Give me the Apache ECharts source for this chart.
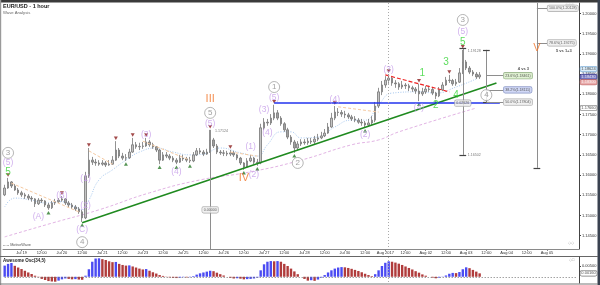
<!DOCTYPE html>
<html><head><meta charset="utf-8">
<script src="https://cdn.jsdelivr.net/npm/echarts@6/dist/echarts.min.js"></script>
<style>html,body{margin:0;padding:0;background:#fff}#c{width:600px;height:285px}</style>
</head><body><div id="c"></div>
<script>
// ---------- DATA ----------
const xLabels = ['Jul 19','12:00','Jul 20','12:00','Jul 21','12:00','Jul 23','12:00','Jul 25','12:00','Jul 26','12:00','Jul 27','12:00','Jul 28','12:00','Jul 30','12:00','Aug 2017','12:00','Aug 02','12:00','Aug 03','12:00','Aug 04','12:00','Aug 05'];
const slotCount = 171;          // 2-hour slots on the time axis
const firstLabelSlot = 5;
const labelStep = 6;

// [open, close, low, high] per 2-hour slot
const ohlc = [
[1.1551,1.1568,1.1548,1.1576],[1.1568,1.1583,1.1566,1.1593],[1.1583,1.1573,1.1568,1.1585],[1.1573,1.1563,1.1561,1.1578],
[1.1563,1.1556,1.1551,1.1568],[1.1556,1.1551,1.1546,1.1561],[1.1551,1.1548,1.1541,1.1556],[1.1548,1.1543,1.1538,1.1553],
[1.1543,1.1541,1.1534,1.1548],[1.1541,1.1529,1.1521,1.1543],[1.1529,1.1538,1.1526,1.1543],[1.1538,1.1536,1.1531,1.1543],
[1.1536,1.1526,1.1521,1.1538],[1.1526,1.1519,1.1514,1.1531],[1.1519,1.1531,1.1516,1.1536],[1.1531,1.1534,1.1526,1.1541],
[1.1534,1.1538,1.1531,1.1543],[1.1538,1.1541,1.1534,1.1548],[1.1541,1.1531,1.1526,1.1543],[1.1531,1.1526,1.1521,1.1536],
[1.1526,1.1521,1.1516,1.1531],[1.1521,1.1516,1.1511,1.1526],[1.1516,1.1509,1.1504,1.1521],[1.1509,1.1494,1.1484,1.1514],
[1.1494,1.1598,1.1491,1.1608],[1.1598,1.1637,1.1593,1.1667],[1.1637,1.1632,1.1625,1.1645],[1.1632,1.1630,1.1623,1.1640],
[1.1630,1.1627,1.1623,1.1637],[1.1627,1.1630,1.1623,1.1637],[1.1630,1.1625,1.1620,1.1635],[1.1625,1.1627,1.1623,1.1637],
[1.1627,1.1637,1.1625,1.1647],[1.1637,1.1662,1.1635,1.1684],[1.1662,1.1647,1.1642,1.1667],[1.1647,1.1642,1.1637,1.1655],
[1.1642,1.1643,1.1635,1.1652],[1.1643,1.1657,1.1640,1.1665],[1.1657,1.1675,1.1655,1.1692],[1.1675,1.1670,1.1665,1.1682],
[1.1670,1.1671,1.1662,1.1680],[1.1671,1.1672,1.1665,1.1682],[1.1672,1.1682,1.1670,1.1692],[1.1682,1.1675,1.1670,1.1687],
[1.1675,1.1670,1.1665,1.1680],[1.1670,1.1662,1.1657,1.1672],[1.1662,1.1637,1.1627,1.1665],[1.1637,1.1650,1.1635,1.1657],
[1.1650,1.1647,1.1642,1.1657],[1.1647,1.1642,1.1637,1.1652],[1.1642,1.1637,1.1632,1.1647],[1.1637,1.1632,1.1627,1.1642],
[1.1632,1.1642,1.1630,1.1650],[1.1642,1.1640,1.1635,1.1650],[1.1640,1.1637,1.1632,1.1645],[1.1637,1.1635,1.1630,1.1645],
[1.1635,1.1650,1.1632,1.1657],[1.1650,1.1660,1.1647,1.1667],[1.1660,1.1657,1.1652,1.1667],[1.1657,1.1652,1.1647,1.1662],
[1.1652,1.1657,1.1650,1.1665],[1.1657,1.1687,1.1655,1.1712],[1.1687,1.1672,1.1667,1.1692],[1.1672,1.1657,1.1652,1.1677],
[1.1657,1.1655,1.1650,1.1662],[1.1655,1.1654,1.1647,1.1662],[1.1654,1.1652,1.1647,1.1660],[1.1652,1.1655,1.1647,1.1662],
[1.1655,1.1650,1.1645,1.1660],[1.1650,1.1642,1.1637,1.1652],[1.1642,1.1630,1.1625,1.1645],[1.1630,1.1620,1.1613,1.1632],
[1.1620,1.1635,1.1618,1.1642],[1.1635,1.1642,1.1632,1.1650],[1.1642,1.1632,1.1627,1.1645],[1.1632,1.1630,1.1623,1.1640],
[1.1630,1.1717,1.1627,1.1727],[1.1717,1.1731,1.1712,1.1741],[1.1731,1.1729,1.1722,1.1739],[1.1729,1.1741,1.1724,1.1751],
[1.1741,1.1754,1.1736,1.1774],[1.1754,1.1741,1.1736,1.1761],[1.1741,1.1727,1.1722,1.1746],[1.1727,1.1712,1.1707,1.1731],
[1.1712,1.1694,1.1689,1.1717],[1.1694,1.1682,1.1675,1.1699],[1.1682,1.1667,1.1655,1.1687],[1.1667,1.1677,1.1662,1.1684],
[1.1677,1.1682,1.1672,1.1689],[1.1682,1.1680,1.1675,1.1689],[1.1680,1.1684,1.1675,1.1692],[1.1684,1.1682,1.1677,1.1692],
[1.1682,1.1689,1.1677,1.1697],[1.1689,1.1692,1.1684,1.1702],[1.1692,1.1697,1.1689,1.1707],[1.1697,1.1704,1.1694,1.1714],
[1.1704,1.1719,1.1702,1.1729],[1.1719,1.1741,1.1717,1.1754],[1.1741,1.1756,1.1736,1.1771],[1.1756,1.1755,1.1746,1.1766],
[1.1755,1.1751,1.1744,1.1761],[1.1751,1.1749,1.1741,1.1759],[1.1749,1.1744,1.1739,1.1754],[1.1744,1.1739,1.1734,1.1749],
[1.1739,1.1736,1.1731,1.1746],[1.1736,1.1731,1.1727,1.1741],[1.1731,1.1729,1.1722,1.1739],[1.1729,1.1724,1.1717,1.1734],
[1.1724,1.1729,1.1719,1.1739],[1.1729,1.1736,1.1724,1.1746],[1.1736,1.1771,1.1731,1.1781],[1.1771,1.1806,1.1766,1.1816],
[1.1806,1.1823,1.1798,1.1833],[1.1823,1.1835,1.1816,1.1845],[1.1835,1.1840,1.1826,1.1850],[1.1840,1.1828,1.1821,1.1843],
[1.1828,1.1826,1.1816,1.1835],[1.1826,1.1818,1.1811,1.1830],[1.1818,1.1823,1.1813,1.1833],[1.1823,1.1821,1.1813,1.1828],
[1.1821,1.1816,1.1808,1.1826],[1.1816,1.1813,1.1806,1.1821],[1.1813,1.1808,1.1801,1.1818],[1.1808,1.1801,1.1783,1.1826],
[1.1801,1.1806,1.1796,1.1816],[1.1806,1.1813,1.1801,1.1821],[1.1813,1.1812,1.1806,1.1821],[1.1812,1.1803,1.1798,1.1816],
[1.1803,1.1796,1.1788,1.1806],[1.1796,1.1811,1.1793,1.1818],[1.1811,1.1823,1.1808,1.1830],[1.1823,1.1835,1.1821,1.1843],
[1.1835,1.1834,1.1828,1.1848],[1.1834,1.1826,1.1821,1.1838],[1.1826,1.1830,1.1821,1.1838],[1.1830,1.1853,1.1828,1.1865],
[1.1853,1.1880,1.1850,1.1910],[1.1880,1.1865,1.1860,1.1885],[1.1865,1.1855,1.1850,1.1870],[1.1855,1.1850,1.1845,1.1860],
[1.1850,1.1843,1.1838,1.1855],[1.1843,1.1848,1.1838,1.1855]
];

// Awesome Oscillator (34,5), per 2-hour slot
const aoValues = [
0.0052,0.0060,0.0064,0.0051,0.0043,0.0036,0.0028,0.0020,0.0013,0.0005,-0.0002,-0.0010,-0.0015,-0.0020,-0.0022,-0.0023,
-0.0018,-0.0012,-0.0008,-0.0010,-0.0012,-0.0011,-0.0013,-0.0014,0.0005,0.0035,0.0070,0.0085,0.0086,0.0082,0.0078,0.0072,
0.0068,0.0069,0.0060,0.0055,0.0052,0.0053,0.0048,0.0043,0.0038,0.0034,0.0036,0.0028,0.0021,0.0015,0.0008,0.0004,
0.0001,-0.0003,-0.0005,-0.0006,-0.0004,-0.0002,-0.0003,-0.0002,0.0003,0.0010,0.0016,0.0020,0.0024,0.0028,0.0026,0.0019,
0.0012,0.0006,0.0000,-0.0005,-0.0008,-0.0007,-0.0009,-0.0012,-0.0011,-0.0010,-0.0008,-0.0004,0.0030,0.0058,0.0070,0.0073,
0.0072,0.0073,0.0070,0.0060,0.0050,0.0038,0.0025,0.0012,0.0000,-0.0010,-0.0018,-0.0016,-0.0019,-0.0013,-0.0004,0.0008,
0.0020,0.0030,0.0038,0.0043,0.0045,0.0044,0.0041,0.0037,0.0032,0.0027,0.0021,0.0014,0.0008,0.0003,0.0012,0.0030,
0.0050,0.0065,0.0072,0.0070,0.0066,0.0061,0.0055,0.0048,0.0041,0.0034,0.0026,0.0019,0.0011,0.0005,0.0000,-0.0004,
-0.0007,-0.0004,-0.0001,0.0006,0.0014,0.0018,0.0017,0.0022,0.0035,0.0044,0.0040,0.0032,0.0024,0.0016
];

// moving averages, sampled [slot, price]
const fastMA = [[0,1.1521],[3,1.1543],[8,1.1538],[12,1.1531],[17,1.1534],[21,1.1521],[23,1.1514],[25,1.1538],[28,1.1588],
 [32,1.1613],[36,1.1637],[40,1.1657],[45,1.1667],[50,1.1657],[55,1.1650],[59,1.1652],[64,1.1667],[70,1.1655],[75,1.1647],
 [78,1.1675],[82,1.1707],[85,1.1707],[88,1.1692],[93,1.1694],[98,1.1719],[103,1.1736],[107,1.1736],[111,1.1774],[115,1.1803],
 [123,1.1806],[128,1.1803],[134,1.1818],[140,1.1838]];
const slowMA = [[0,1.1447],[14,1.1481],[28,1.1514],[43,1.1556],[58,1.1588],[73,1.1608],[88,1.1637],[103,1.1675],[111,1.1687],[117,1.1707],[140,1.1766]];

const priceTicks = [1.145,1.150,1.155,1.160,1.165,1.170,1.175,1.180,1.185,1.190,1.195,1.200];
const aoTicks = [0.005];

// swing markers (slots)
const highMarks = [1,17,25,33,38,42,61,67,80,98,114,123,132,136];
const lowMarks = [13,23,36,46,51,55,71,75,86,107,123,128];

// wave labels: [text, kind, slot, price]
const waveLabels = [
 ['3','circle',1,1.1655],['(5)','sub',1,1.1630],['5','minor',1,1.1608],
 ['(A)','sub',10,1.1496],['(B)','sub',17,1.1548],['(C)','sub',23,1.1464],['4','circle',23,1.1434],
 ['(1)','sub',24,1.1590],['(2)','sub',24,1.1524],['(3)','sub',42,1.1699],['(4)','sub',51,1.1608],
 ['III','major',61,1.1788],['5','circle',61,1.1754],['(5)','sub',61,1.1727],
 ['(1)','sub',73,1.1670],['IV','major',71,1.1593],['(2)','sub',74,1.1600],
 ['1','circle',80,1.1818],['(5)','sub',80,1.1791],['(3)','sub',77,1.1761],['(4)','sub',78,1.1704],
 ['2','circle',87,1.1630],['(4)','sub',98,1.1786],['(2)','sub',107,1.1699],
 ['(3)','sub',114,1.1860],['(4)','sub',123,1.1766],['1','minor',124,1.1853],['2','minor',128,1.1774],
 ['3','minor',131,1.1880],['4','minor',134,1.1798],['5','minor',136,1.1929],
 ['3','circle',136,1.1984],['(5)','sub',136,1.1954],['4','circle',143,1.1798],['V','major',158,1.1915]
];

// trend lines [[slot,price],[slot,price]]
const greenTrend = [[23,1.1482],[146,1.1828]];
const blueLevel = [[80,1.1778],[147,1.1778]];
const redTrend = [[113,1.1848],[132,1.1806]];
const peachLines = [
 [[2,1.1580],[22,1.1509]], [[25,1.1660],[32,1.1627]], [[41,1.1684],[55,1.1637]],
 [[67,1.1657],[75,1.1647]], [[99,1.1769],[111,1.1756]]
];
const monthSlot = 114;
// measuring tools
const measureVerticals = [[[61,1.1712],[61,1.1417]],[[136,1.1913],[136,1.1650]],[[143,1.1910],[143,1.1780]],[[158,1.2026],[158,1.1618]]];
const measureCaps = [[136,1.1913],[136,1.1650],[143,1.1910],[143,1.1780],[158,1.1618]];
const fibConnectors = [[[143,1.18461],[148,1.18461]],[[143,1.18111],[148,1.18111]],[[143,1.17804],[148,1.17804]],[[158,1.20128],[161,1.20128]],[[158,1.19275],[161,1.19275]]];
const fibBoxes = [
 ['23.6%(1.18461)',148,1.18461,'green'],['38.2%(1.18111)',148,1.18111,'blue'],['50.0%(1.17804)',148,1.17804,'grey'],
 ['100.0%(1.20128)',161,1.20128,'grey'],['78.6%(1.19275)',161,1.19275,'grey']
];
const centerBoxes = [['0.00000',61,1.1514],['0.02626',136,1.1778]];
const noteTexts = [['4 vs 3',154,1.1864,true],['5 vs 1+3',166,1.1908,true],['1.17124',62,1.1709,false],['1.19128',137,1.1906,false],['1.16502',137,1.1650,false]];
const axisBoxes = [['1.18624',1.18624,'lb'],['1.18430',1.1843,'db'],['1.18300',1.1830,'pk'],['1.17660',1.1766,'wh']];
const aoBox = ['0.00160',0.0016];

// ---------- CHART ----------
const FONT = 'Liberation Sans, Arial, sans-serif';
const chart = echarts.init(document.getElementById('c'), null, {renderer:'canvas'});
const categories = Array.from({length: slotCount}, (_, i) => 's' + i);
const labelAt = i => (i >= firstLabelSlot && (i - firstLabelSlot) % labelStep === 0) ? xLabels[(i - firstLabelSlot) / labelStep] : undefined;
const isLabel = i => labelAt(i) !== undefined;

const seg = (a, b, style) => [{coord: a, lineStyle: style}, {coord: b}];
const greyL = {color:'#8e8e8e', width:1, type:'solid'};
const mainLines = [
  seg(greenTrend[0], greenTrend[1], {color:'#1f8a1f', width:1.6, type:'solid'}),
  seg(blueLevel[0], blueLevel[1], {color:'#2233ee', width:1.6, type:'solid'}),
  seg(redTrend[0], redTrend[1], {color:'#ee2222', width:1.2, type:[4,2]}),
  seg([monthSlot,1.2026],[monthSlot,1.1417], {color:'#aaaaaa', width:1, type:[1,2]}),
  ...peachLines.map(l => seg(l[0], l[1], {color:'#f5c9a0', width:1, type:[3,2]})),
  ...measureVerticals.map(l => seg(l[0], l[1], greyL)),
  ...measureCaps.map(c => seg([c[0]-1, c[1]], [c[0]+1, c[1]], {color:'#444', width:1.2, type:'solid'})),
  ...fibConnectors.map(l => seg(l[0], l[1], greyL))
];

const waveStyles = {
  circle: {symbol:'circle', size:11, item:{color:'#ffffff', borderColor:'#a4a4a4', borderWidth:1}, color:'#8a8a8a', fontSize:8, weight:'normal'},
  sub:    {symbol:'circle', size:1, item:{color:'rgba(0,0,0,0)'}, color:'#c49be9', fontSize:8.5, weight:'normal'},
  minor:  {symbol:'circle', size:1, item:{color:'rgba(0,0,0,0)'}, color:'#35d435', fontSize:10, weight:'normal'},
  major:  {symbol:'circle', size:1, item:{color:'rgba(0,0,0,0)'}, color:'#f07428', fontSize:11, weight:'normal'}
};
const waveData = waveLabels.map(([t, k, s, p]) => {
  const st = waveStyles[k];
  return {value:[s, p], symbol: st.symbol, symbolSize: st.size, itemStyle: st.item,
    label:{show:true, position:'inside', formatter:t, color:st.color, fontSize:st.fontSize, fontWeight:st.weight, fontFamily:FONT}};
});

const boxStyles = {
  green:{bg:'#d9efc9', border:'#7b9c6b'}, blue:{bg:'#c6cef2', border:'#6f7fb5'}, grey:{bg:'#eeeeee', border:'#9a9a9a'},
  lb:{bg:'#d3e8f7', border:'#5c97cc', color:'#222'}, db:{bg:'#5b5bb3', border:'#3c3c90', color:'#fff'},
  pk:{bg:'#e49a9a', border:'#b86060', color:'#fff'}, wh:{bg:'#ffffff', border:'#555', color:'#222'}
};
const boxData = [
  ...fibBoxes.map(([t, s, p, st]) => ({value:[s, p], label:{show:true, position:'right', distance:0, formatter:t, fontSize:3.6, color:'#333',
     backgroundColor:boxStyles[st].bg, borderColor:boxStyles[st].border, borderWidth:0.6, borderRadius:1.5, padding:[1,1.5], fontFamily:FONT}})),
  ...centerBoxes.map(([t, s, p]) => ({value:[s, p], label:{show:true, position:'inside', formatter:t, fontSize:3.6, color:'#333',
     backgroundColor:'#eeeeee', borderColor:'#9a9a9a', borderWidth:0.6, borderRadius:1.5, padding:[1,1.5], fontFamily:FONT}})),
  ...noteTexts.map(([t, s, p, b]) => ({value:[s, p], label:{show:true, position: b ? 'inside' : 'right', distance:1, formatter:t,
     fontSize: b ? 4 : 3.6, fontWeight: b ? 'bold' : 'normal', color: b ? '#222' : '#555', fontFamily:FONT}})),
  ...axisBoxes.map(([t, p, st]) => ({value:[slotCount - 1, p], label:{show:true, position:'right', distance:2.5, formatter:t, fontSize:4,
     color:boxStyles[st].color, backgroundColor:boxStyles[st].bg, borderColor:boxStyles[st].border, borderWidth:0.6, borderRadius:1.5, padding:[0.5,1], fontFamily:FONT}}))
];

const aoData = aoValues.map((v, i) => ({value: v, itemStyle:{color: (i === 0 || v > aoValues[i-1]) ? '#4b4bf2' : '#b03c3c'}}));

const option = {
  animation:false,
  backgroundColor:'#ffffff',
  title:[
    {text:'EUR/USD - 1 hour', left:3, top:3, textStyle:{fontSize:5.5, fontWeight:'bold', color:'#222', fontFamily:FONT},
     subtext:'Wave Analysis', subtextStyle:{fontSize:4.2, color:'#666', fontFamily:FONT}, itemGap:2, padding:0},
    {text:'Awesome Osc(34,5)', left:3, top:258, padding:0, textStyle:{fontSize:4.5, fontWeight:'bold', color:'#222', fontFamily:FONT}},
    {text:'-- -- MotiveWave', left:3, top:243, padding:0, textStyle:{fontSize:3.8, fontWeight:'normal', color:'#555', fontFamily:FONT}}
  ],
  grid:[
    {left:3, right:21, top:3, height:246},
    {left:3, right:21, top:257, height:26}
  ],
  xAxis:[
    {type:'category', gridIndex:0, data:categories, boundaryGap:true,
     axisLine:{show:true, lineStyle:{color:'#8a8a8a', width:1}},
     axisTick:{show:true, length:2, alignWithLabel:true, interval:(i) => isLabel(i), lineStyle:{color:'#8a8a8a'}},
     axisLabel:{show:true, interval:(i) => isLabel(i), formatter:(v, i) => labelAt(i) || '', fontSize:4, color:'#333', margin:2, fontFamily:FONT},
     splitLine:{show:false}},
    {type:'category', gridIndex:1, data:categories, boundaryGap:true,
     axisLine:{show:false}, axisTick:{show:false}, axisLabel:{show:false}, splitLine:{show:false}}
  ],
  yAxis:[
    {type:'value', gridIndex:0, position:'right', min:1.1417, max:1.2026,
     axisLine:{show:true, lineStyle:{color:'#444', width:1}},
     axisTick:{show:true, length:2, customValues:priceTicks, lineStyle:{color:'#444'}},
     axisLabel:{show:true, customValues:priceTicks, formatter:v => v.toFixed(5), fontSize:4, color:'#333', margin:3, fontFamily:FONT},
     splitLine:{show:false}},
    {type:'value', gridIndex:1, position:'right', min:-0.0029, max:0.0092,
     axisLine:{show:true, lineStyle:{color:'#444', width:1}},
     axisTick:{show:true, length:2, customValues:aoTicks, lineStyle:{color:'#444'}},
     axisLabel:{show:true, customValues:aoTicks, formatter:v => v.toFixed(5), fontSize:4, color:'#333', margin:3, fontFamily:FONT},
     splitLine:{show:false}}
  ],
  series:[
    {type:'line', name:'slowMA', xAxisIndex:0, yAxisIndex:0, data:slowMA, smooth:true, symbol:'none', z:1,
     lineStyle:{color:'#e2b4e4', width:1, type:[3,2]}},
    {type:'line', name:'fastMA', xAxisIndex:0, yAxisIndex:0, data:fastMA, smooth:true, symbol:'none', z:1,
     lineStyle:{color:'#a6c8ef', width:1, type:[1,1.5]}},
    {type:'candlestick', name:'EUR/USD', xAxisIndex:0, yAxisIndex:0, data:ohlc, barWidth:2, z:2,
     itemStyle:{color:'#c4c4c4', color0:'#a0a0a0', borderColor:'#767676', borderColor0:'#767676', borderWidth:0.8},
     markLine:{silent:true, symbol:['none','none'], label:{show:false}, animation:false, data:mainLines}},
    {type:'scatter', name:'highs', xAxisIndex:0, yAxisIndex:0, z:4, data:highMarks.map(i => [i, ohlc[i][3]]),
     symbol:'triangle', symbolRotate:180, symbolSize:[4,3.5], symbolOffset:[0,-3], itemStyle:{color:'#8b1d1d'}},
    {type:'scatter', name:'lows', xAxisIndex:0, yAxisIndex:0, z:4, data:lowMarks.map(i => [i, ohlc[i][2]]),
     symbol:'triangle', symbolSize:[4,3.5], symbolOffset:[0,3], itemStyle:{color:'#2a7a2a'}},
    {type:'scatter', name:'waves', xAxisIndex:0, yAxisIndex:0, z:6, clip:false, data:waveData},
    {type:'scatter', name:'boxes', xAxisIndex:0, yAxisIndex:0, z:7, clip:false, symbol:'circle', symbolSize:1,
     itemStyle:{color:'rgba(0,0,0,0)'}, data:boxData},
    {type:'bar', name:'AO', xAxisIndex:1, yAxisIndex:1, data:aoData, barWidth:2.4, z:2,
     markLine:{silent:true, symbol:['none','none'], label:{show:false}, animation:false, data:[
       [{coord:[0,0], lineStyle:{color:'#777', width:1, type:[1,2]}},{coord:[slotCount-1,0]}],
       [{coord:[monthSlot,0.0092], lineStyle:{color:'#aaa', width:1, type:[1,2]}},{coord:[monthSlot,-0.0029]}]
     ]}},
    {type:'scatter', name:'aoBox', xAxisIndex:1, yAxisIndex:1, z:7, clip:false, symbolSize:1, itemStyle:{color:'rgba(0,0,0,0)'},
     data:[{value:[slotCount-1, aoBox[1]], label:{show:true, position:'right', distance:2.5, formatter:aoBox[0], fontSize:4, color:'#222',
       backgroundColor:'#fff', borderColor:'#555', borderWidth:0.6, borderRadius:1.5, padding:[0.5,1], fontFamily:FONT}}]}
  ],
  graphic:[
    {type:'rect', shape:{x:0, y:0, width:600, height:2.5}, style:{fill:'#3b3b3b'}, silent:true},
    {type:'rect', shape:{x:0, y:0, width:1.2, height:285}, style:{fill:'#9a9a9a'}, silent:true},
    {type:'rect', shape:{x:597.5, y:0, width:2.5, height:285}, style:{fill:'#3a4250'}, silent:true},
    {type:'line', shape:{x1:0, y1:256.5, x2:598, y2:256.5}, style:{stroke:'#666', lineWidth:1}, silent:true},
    {type:'line', shape:{x1:0, y1:284, x2:598, y2:284}, style:{stroke:'#777', lineWidth:1}, silent:true},
    {type:'text', left:565, top:2.5, style:{text:'◎◎◎', fontSize:4, fill:'#aaa'}, silent:true},
    {type:'text', left:568, top:241, style:{text:'◇◇', fontSize:4, fill:'#aaa'}, silent:true},
    {type:'text', left:569, top:258, style:{text:'◇□', fontSize:4, fill:'#aaa'}, silent:true}
  ]
};
chart.setOption(option);
</script>
</body></html>
